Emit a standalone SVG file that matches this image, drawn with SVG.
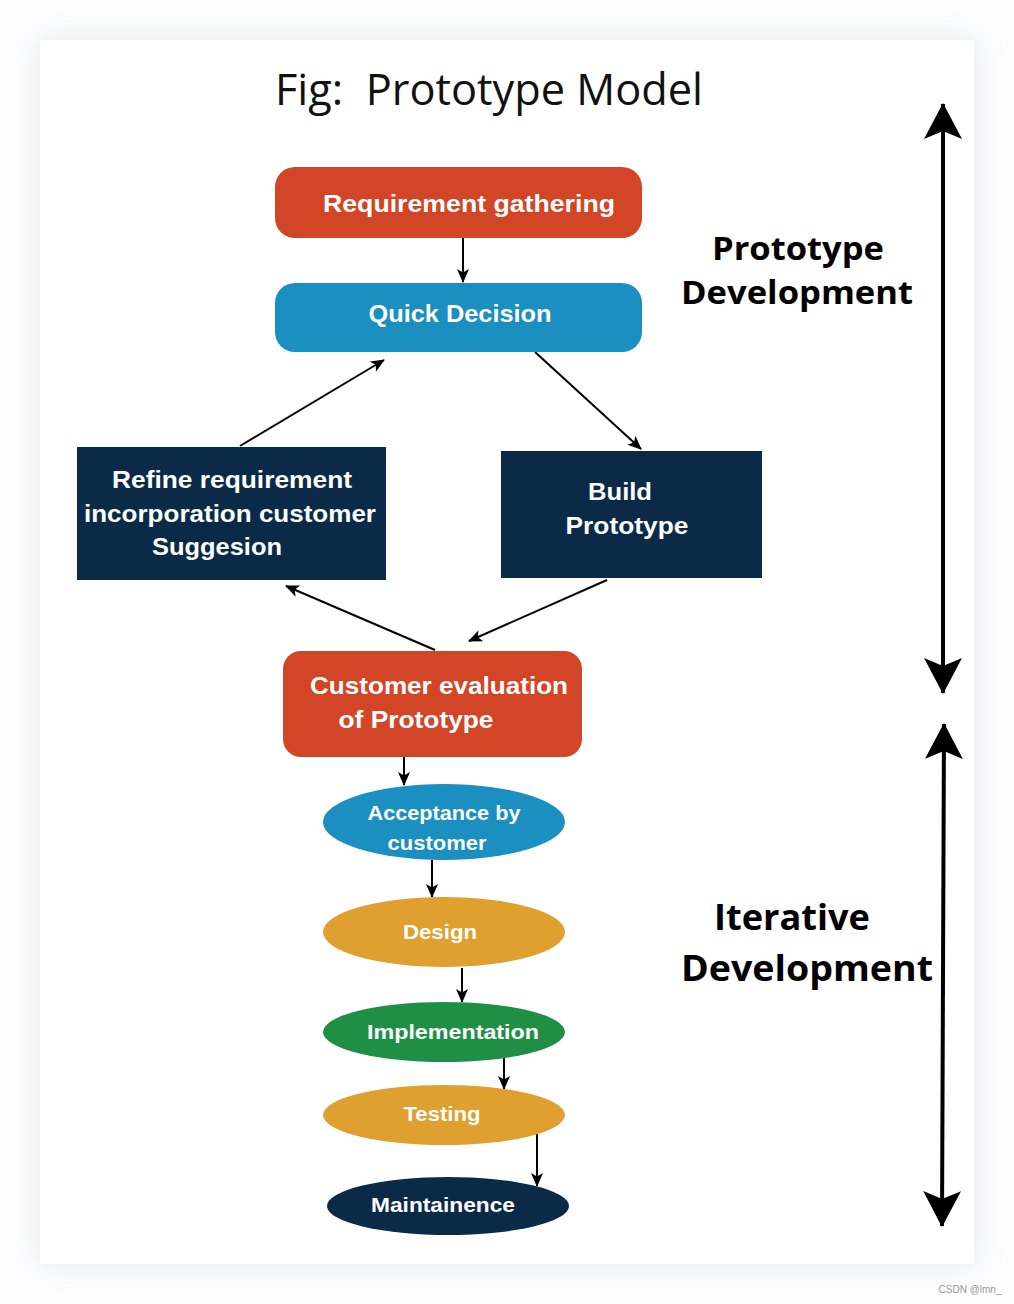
<svg xmlns="http://www.w3.org/2000/svg" width="1014" height="1304" viewBox="0 0 1014 1304">
<defs>
<filter id="shadow" x="-10%" y="-10%" width="120%" height="120%">
<feDropShadow dx="0" dy="0" stdDeviation="14" flood-color="#8a94a6" flood-opacity="0.22"/>
</filter>
<marker id="ah" viewBox="0 0 14 12" refX="13" refY="6" markerWidth="14" markerHeight="12" markerUnits="userSpaceOnUse" orient="auto">
<path d="M0,0 L14,6 L0,12 L3.5,6 Z" fill="#000"/>
</marker>
<marker id="big" viewBox="0 0 36 38" refX="35" refY="19" markerWidth="36" markerHeight="38" markerUnits="userSpaceOnUse" orient="auto-start-reverse">
<path d="M0,0 L36,19 L0,38 L8,19 Z" fill="#000"/>
</marker>
</defs>
<style>
.nt{font-family:"Liberation Sans",Arial,sans-serif;font-weight:700;fill:#fff;text-anchor:middle}
.lab{font-family:"Open Sans","Liberation Sans",sans-serif;font-weight:700;fill:#000;text-anchor:middle}
.c{stroke:#000;stroke-width:2;fill:none;marker-end:url(#ah)}
.side{stroke:#000;stroke-width:4;fill:none;marker-start:url(#big);marker-end:url(#big)}
</style>
<rect width="1014" height="1304" fill="#fdfdfe"/>
<rect x="40" y="40" width="934" height="1224" fill="#fff" filter="url(#shadow)"/>
<text x="489" y="105" font-family="Open Sans,Liberation Sans,sans-serif" font-size="44" fill="#111" text-anchor="middle" textLength="428" lengthAdjust="spacingAndGlyphs" xml:space="preserve">Fig:  Prototype Model</text>

<g id="connectors">
<line class="c" x1="463" y1="238" x2="463" y2="282"/>
<line class="c" x1="240" y1="446" x2="384" y2="360"/>
<line class="c" x1="535" y1="352" x2="641" y2="449"/>
<line class="c" x1="607" y1="580" x2="469" y2="641"/>
<line class="c" x1="435" y1="650" x2="286" y2="586"/>
<line class="c" x1="404" y1="757" x2="404" y2="785"/>
<line class="c" x1="432" y1="860" x2="432" y2="897"/>
<line class="c" x1="462" y1="968" x2="462" y2="1002"/>
<line class="c" x1="504" y1="1058" x2="504" y2="1089"/>
<line class="c" x1="537" y1="1133" x2="537" y2="1186"/>
<line class="side" x1="943" y1="104" x2="943" y2="693"/>
<line class="side" x1="944" y1="724" x2="942" y2="1226"/>
</g>

<g id="req">
<rect x="275" y="167" width="367" height="71" rx="20" fill="#d24627"/>
<text class="nt" x="469" y="212" font-size="24" textLength="292" lengthAdjust="spacingAndGlyphs">Requirement gathering</text>
</g>
<g id="quick">
<rect x="275" y="283" width="367" height="69" rx="20" fill="#1a8fc0"/>
<text class="nt" x="460" y="322" font-size="24" textLength="183" lengthAdjust="spacingAndGlyphs">Quick Decision</text>
</g>
<g id="refine">
<rect x="77" y="447" width="309" height="133" fill="#0b2a47"/>
<text class="nt" x="232" y="488" font-size="24" textLength="240" lengthAdjust="spacingAndGlyphs">Refine requirement</text>
<text class="nt" x="230" y="522" font-size="24" textLength="292" lengthAdjust="spacingAndGlyphs">incorporation customer</text>
<text class="nt" x="217" y="555" font-size="24" textLength="130" lengthAdjust="spacingAndGlyphs">Suggesion</text>
</g>
<g id="build">
<rect x="501" y="451" width="261" height="127" fill="#0b2a47"/>
<text class="nt" x="620" y="500" font-size="24" textLength="64" lengthAdjust="spacingAndGlyphs">Build</text>
<text class="nt" x="627" y="534" font-size="24" textLength="123" lengthAdjust="spacingAndGlyphs">Prototype</text>
</g>
<g id="custeval">
<rect x="283" y="651" width="299" height="106" rx="18" fill="#d24627"/>
<text class="nt" x="439" y="694" font-size="24" textLength="258" lengthAdjust="spacingAndGlyphs">Customer evaluation</text>
<text class="nt" x="416" y="728" font-size="24" textLength="155" lengthAdjust="spacingAndGlyphs">of Prototype</text>
</g>
<g id="accept">
<ellipse cx="444" cy="822" rx="121" ry="38" fill="#1a8fc0"/>
<text class="nt" x="444" y="820" font-size="21" textLength="153" lengthAdjust="spacingAndGlyphs">Acceptance by</text>
<text class="nt" x="437" y="850" font-size="21" textLength="99" lengthAdjust="spacingAndGlyphs">customer</text>
</g>
<g id="design">
<ellipse cx="444" cy="932" rx="121" ry="35" fill="#e0a030"/>
<text class="nt" x="440" y="939" font-size="21" textLength="74" lengthAdjust="spacingAndGlyphs">Design</text>
</g>
<g id="impl">
<ellipse cx="444" cy="1032" rx="121" ry="30" fill="#1f8f45"/>
<text class="nt" x="453" y="1039" font-size="21" textLength="172" lengthAdjust="spacingAndGlyphs">Implementation</text>
</g>
<g id="testing">
<ellipse cx="444" cy="1115" rx="121" ry="30" fill="#e0a030"/>
<text class="nt" x="442" y="1121" font-size="21" textLength="77" lengthAdjust="spacingAndGlyphs">Testing</text>
</g>
<g id="maint">
<ellipse cx="448" cy="1206" rx="121" ry="29" fill="#0b2a47"/>
<text class="nt" x="443" y="1212" font-size="21" textLength="144" lengthAdjust="spacingAndGlyphs">Maintainence</text>
</g>

<g id="labels">
<text class="lab" x="798" y="260" font-size="32" textLength="172" lengthAdjust="spacingAndGlyphs">Prototype</text>
<text class="lab" x="797" y="304" font-size="32" textLength="232" lengthAdjust="spacingAndGlyphs">Development</text>
<text class="lab" x="792" y="930" font-size="36" textLength="156" lengthAdjust="spacingAndGlyphs">Iterative</text>
<text class="lab" x="807" y="981" font-size="36" textLength="252" lengthAdjust="spacingAndGlyphs">Development</text>
</g>
<text x="970" y="1293" font-family="Liberation Sans,Arial,sans-serif" font-size="10" fill="#999" text-anchor="middle">CSDN @lmn_</text>
</svg>
